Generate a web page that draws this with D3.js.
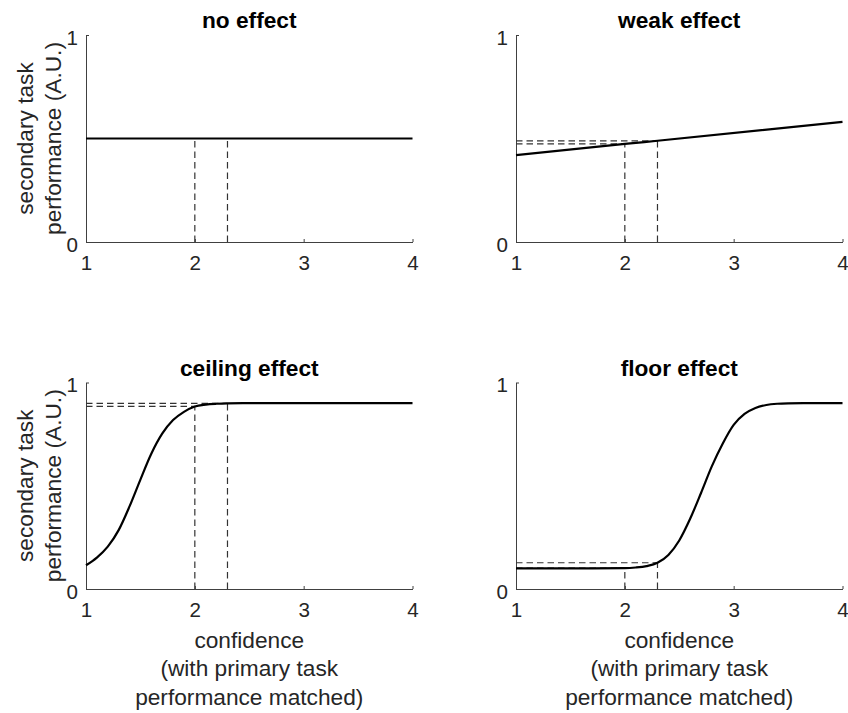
<!DOCTYPE html>
<html>
<head>
<meta charset="utf-8">
<script src="https://cdn.jsdelivr.net/npm/d3@7/dist/d3.min.js"></script>
<style>
	html, body { margin: 0; padding: 0; background: #fff; }
	svg text { font-family: "Liberation Sans", Arial, Helvetica, sans-serif; }
</style>
</head>
<body>
<svg id="chart"></svg>
<script>
	// chart values
	var titles = ['no effect', 'weak effect', 'ceiling effect', 'floor effect'],
		xTicks = [1, 2, 3, 4],
		yTicks = [0, 1],
		markerX = [2, 2.3],

		noEffectX = [1, 2, 2.3, 4],
		noEffectY = [0.5, 0.5, 0.5, 0.5],

		weakX = [1, 2, 2.3, 4],
		weakY = [0.42, 0.474, 0.489, 0.58],

		ceilingX = [1, 1.1, 1.2, 1.3, 1.4, 1.5, 1.6, 1.7, 1.8, 1.9, 2, 2.1, 2.2, 2.3, 2.5, 3, 3.5, 4],
		ceilingY = [0.115, 0.152, 0.205, 0.285, 0.400, 0.530, 0.655, 0.752, 0.818, 0.858, 0.884, 0.893, 0.897, 0.899, 0.900, 0.900, 0.900, 0.900],

		floorX = [1, 1.5, 2, 2.1, 2.2, 2.3, 2.4, 2.5, 2.6, 2.7, 2.8, 2.9, 3, 3.1, 3.2, 3.3, 3.4, 3.5, 3.7, 4],
		floorY = [0.100, 0.100, 0.101, 0.104, 0.111, 0.127, 0.165, 0.235, 0.340, 0.465, 0.595, 0.705, 0.795, 0.848, 0.877, 0.891, 0.897, 0.899, 0.900, 0.900],

		yLabel = ['secondary task', 'performance (A.U.)'],
		xLabel = ['confidence', '(with primary task', 'performance matched)'];

	var seriesX = [noEffectX, weakX, ceilingX, floorX],
		seriesY = [noEffectY, weakY, ceilingY, floorY];

	var width = 848,
		height = 713,
		plotW = 326.5,
		lefts = [86, 516],
		tops = [35, 382.5],
		plotH = [207, 206.5],
		tickFont = '20.6px',
		labelFont = '22.7px',
		i;

	var svg = d3.select('#chart')
		.attr('width', width)
		.attr('height', height);

	var drawPanel = function (p) {
		var col = p % 2,
			row = Math.floor(p / 2),
			h = plotH[row],
			xs = seriesX[p],
			ys = seriesY[p],
			pts = xs.map(function (d, j) { return [d, ys[j]]; });

		var x = d3.scaleLinear().domain([1, 4]).range([0, plotW]),
			y = d3.scaleLinear().domain([0, 1]).range([h, 0]);

		var g = svg.append('g')
			.attr('class', 'panel')
			.attr('transform', 'translate(' + lefts[col] + ',' + tops[row] + ')');

		// axes, MATLAB style ticks pointing in
		var xAxis = g.append('g')
			.attr('transform', 'translate(0,' + h + ')')
			.call(d3.axisBottom(x).tickValues(xTicks).tickFormat(d3.format('d'))
				.tickSizeInner(-3).tickSizeOuter(0));

		var yAxis = g.append('g')
			.call(d3.axisLeft(y).tickValues(yTicks).tickFormat(d3.format('d'))
				.tickSizeInner(-3).tickSizeOuter(0));

		[xAxis, yAxis].forEach(function (a) {
			a.selectAll('path, line').attr('stroke', '#404040');
			a.selectAll('text')
				.attr('fill', '#262626')
				.style('font-size', tickFont);
		});
		xAxis.selectAll('text').attr('y', 28).attr('dy', null);
		yAxis.selectAll('text').attr('x', -8).attr('dy', '0.45em');

		// dashed guides at the matched points
		markerX.forEach(function (mx) {
			var my = ys[xs.indexOf(mx)];
			g.append('line')
				.attr('x1', x(mx)).attr('x2', x(mx))
				.attr('y1', y(0)).attr('y2', y(my))
				.attr('stroke', '#333').attr('stroke-width', 1.2)
				.attr('stroke-dasharray', '6.5,4');
			g.append('line')
				.attr('x1', x(1)).attr('x2', x(mx))
				.attr('y1', y(my)).attr('y2', y(my))
				.attr('stroke', '#333').attr('stroke-width', 1.2)
				.attr('stroke-dasharray', '6.5,4');
		});

		// curve
		g.append('path')
			.datum(pts)
			.attr('fill', 'none')
			.attr('stroke', '#000')
			.attr('stroke-width', 2.2)
			.attr('d', d3.line()
				.x(function (d) { return x(d[0]); })
				.y(function (d) { return y(d[1]); })
				.curve(d3.curveMonotoneX));

		// title
		g.append('text')
			.attr('x', plotW / 2)
			.attr('y', -7)
			.attr('text-anchor', 'middle')
			.style('font-size', labelFont)
			.style('font-weight', 'bold')
			.text(titles[p]);

		// y label on left column
		if (col === 0) {
			yLabel.forEach(function (t, j) {
				g.append('text')
					.attr('transform', 'translate(' + (-52.7 + j * 28) + ',' + (h / 2) + ') rotate(-90)')
					.attr('text-anchor', 'middle')
					.attr('fill', '#262626')
					.style('font-size', labelFont)
					.text(t);
			});
		}

		// x label on bottom row
		if (row === 1) {
			xLabel.forEach(function (t, j) {
				g.append('text')
					.attr('x', plotW / 2)
					.attr('y', h + 59 + j * 28.3)
					.attr('text-anchor', 'middle')
					.attr('fill', '#262626')
					.style('font-size', labelFont)
					.text(t);
			});
		}
	};

	for (i = 0; i < 4; i++) {
		drawPanel(i);
	}
</script>
</body>
</html>
